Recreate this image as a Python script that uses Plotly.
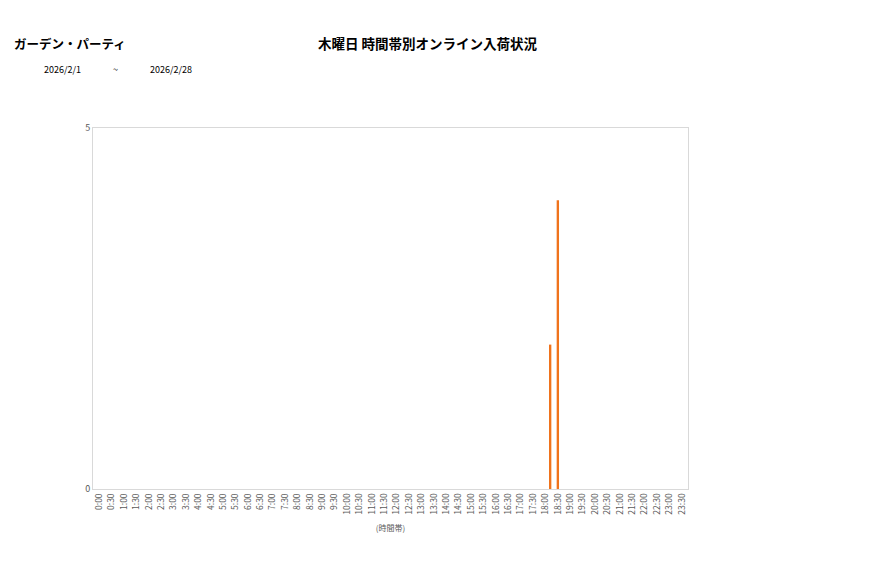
import plotly.graph_objects as go

# data
times = [f"{h}:{m:02d}" for h in range(24) for m in (0, 30)]
weeks = ["第1週", "第2週", "第3週", "第4週", "第5週"]
week_values = {
    "第1週": {},
    "第2週": {},
    "第3週": {"18:30": 4},
    "第4週": {},
    "第5週": {"18:00": 2},
}

shop = "ガーデン・パーティ"
title = "木曜日 時間帯別オンライン入荷状況"
date_from = "2026/2/1"
date_to = "2026/2/28"

font = "Noto Sans CJK JP"
bar_color = "#F0731C"

# page has an 8px body margin, so the figure is a bit smaller
W, H = 869, 570
L, R, T, B = 85, 189, 120, 89

fig = go.Figure()
for w in weeks:
    fig.add_trace(go.Bar(
        x=times,
        y=[week_values[w].get(t, 0) for t in times],
        name=w,
        marker_color=bar_color,
        marker_line_width=0,
    ))

fig.update_layout(
    width=W, height=H,
    margin=dict(l=L, r=R, t=T, b=B),
    paper_bgcolor="white", plot_bgcolor="white",
    barmode="group", bargap=0.05, bargroupgap=0,
    showlegend=False,
    font=dict(family=font, size=9, color="#595959"),
)

fig.update_xaxes(
    type="category", tickangle=-90, tickfont=dict(size=8.5),
    showline=True, linecolor="#D9D9D9", mirror=True,
    showgrid=False, ticks="",
    title=dict(text="(時間帯)", font=dict(size=8), standoff=11),
)
fig.update_yaxes(
    range=[0, 5], tickvals=[0, 5], tickfont=dict(size=9),
    showline=True, linecolor="#D9D9D9", mirror=True,
    showgrid=False, zeroline=False, ticks="",
)

# header texts, in page pixels
def px_text(text, x, y, size, anchor="left"):
    fig.add_annotation(
        text=text, xref="paper", yref="paper",
        x=(x - 8 - L) / (W - L - R), y=1 - (y - 8 - T) / (H - T - B),
        xanchor=anchor, yanchor="middle", showarrow=False,
        font=dict(size=size, color="#000000", family=font),
    )

px_text("<b>" + title + "</b>", 428, 43, 13.5, "center")
px_text("<b>" + shop + "</b>", 12, 43, 12.5)
px_text(date_from, 42, 70, 9)
px_text("~", 115, 70, 9, "center")
px_text(date_to, 148, 70, 9)

fig.write_html("out.html")
